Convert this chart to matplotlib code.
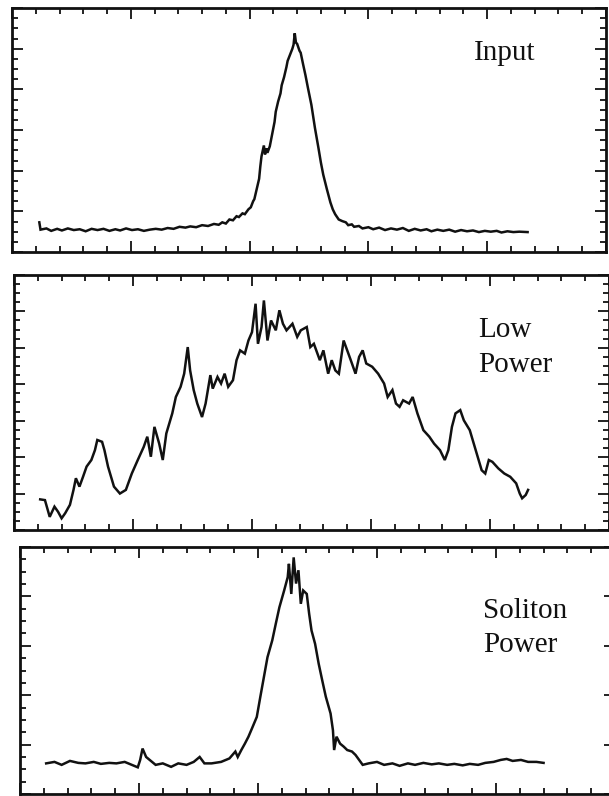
import matplotlib
matplotlib.use("Agg")
import matplotlib.pyplot as plt
from matplotlib.ticker import MultipleLocator

# Input pulse
x_input = [0.23,0.24,0.29,0.33,0.38,0.42,0.47,0.52,0.57,0.62,0.67,0.72,0.77,0.82,0.87,0.91,0.96,1.01,1.06,1.11,
           1.16,1.21,1.26,1.31,1.36,1.41,1.46,1.50,1.55,1.60,1.65,1.70,1.74,1.77,1.80,1.83,1.86,1.89,1.91,1.94,
           1.96,1.99,2.01,2.03,2.04,2.06,2.08,2.09,2.10,2.12,2.13,2.14,2.15,2.17,2.19,2.21,2.22,2.24,2.26,2.27,
           2.29,2.31,2.32,2.34,2.36,2.37,2.38,2.39,2.40,2.42,2.43,2.45,2.47,2.49,2.52,2.55,2.58,2.60,2.62,2.65,
           2.68,2.70,2.72,2.75,2.78,2.81,2.83,2.86,2.88,2.92,2.95,3.00,3.04,3.09,3.14,3.19,3.24,3.29,3.34,3.39,
           3.44,3.49,3.53,3.58,3.63,3.68,3.73,3.78,3.83,3.88,3.93,3.98,4.03,4.08,4.12,4.17,4.22,4.27,4.34]
y_input = [0.73,0.55,0.58,0.52,0.57,0.53,0.58,0.54,0.56,0.51,0.57,0.54,0.57,0.52,0.56,0.53,0.58,0.54,0.56,0.52,
           0.55,0.57,0.55,0.59,0.57,0.62,0.60,0.63,0.61,0.66,0.64,0.69,0.67,0.73,0.70,0.80,0.78,0.88,0.86,0.95,
           0.93,1.05,1.10,1.25,1.30,1.55,1.80,2.10,2.35,2.62,2.40,2.55,2.44,2.60,2.90,3.20,3.45,3.70,3.90,4.10,
           4.30,4.55,4.70,4.85,5.00,5.10,5.38,5.15,5.12,4.95,4.90,4.62,4.35,4.05,3.62,3.05,2.55,2.20,1.90,1.55,
           1.22,1.05,0.93,0.80,0.76,0.73,0.66,0.68,0.62,0.64,0.58,0.61,0.56,0.60,0.54,0.58,0.55,0.59,0.52,0.57,
           0.53,0.56,0.51,0.55,0.52,0.55,0.50,0.54,0.51,0.53,0.49,0.52,0.50,0.52,0.48,0.51,0.49,0.50,0.49]

# Low power output
x_low = [0.22,0.26,0.30,0.34,0.37,0.40,0.43,0.47,0.50,0.52,0.55,0.58,0.61,0.65,0.68,0.70,0.74,0.76,0.79,0.84,
         0.89,0.94,0.99,1.04,1.09,1.12,1.15,1.18,1.22,1.25,1.28,1.33,1.36,1.40,1.43,1.46,1.48,1.51,1.54,1.58,
         1.61,1.65,1.67,1.71,1.74,1.77,1.80,1.84,1.87,1.90,1.94,1.97,2.00,2.03,2.05,2.08,2.10,2.13,2.16,2.20,
         2.23,2.26,2.29,2.34,2.38,2.41,2.46,2.49,2.52,2.57,2.60,2.64,2.67,2.70,2.73,2.77,2.80,2.83,2.87,2.90,
         2.93,2.96,3.01,3.06,3.11,3.14,3.18,3.21,3.24,3.27,3.32,3.35,3.39,3.44,3.49,3.53,3.58,3.62,3.65,3.68,
         3.71,3.75,3.78,3.83,3.88,3.93,3.96,3.99,4.02,4.07,4.12,4.17,4.22,4.25,4.27,4.30,4.32]
y_low = [0.84,0.82,0.36,0.64,0.50,0.32,0.46,0.69,1.10,1.42,1.19,1.46,1.74,1.92,2.19,2.47,2.42,2.19,1.74,1.19,
         1.00,1.10,1.55,1.92,2.28,2.56,2.01,2.83,2.37,1.92,2.65,3.20,3.65,3.93,4.29,5.02,4.38,3.84,3.47,3.10,
         3.47,4.25,3.88,4.20,4.02,4.29,3.93,4.11,4.66,4.93,4.84,5.20,5.43,6.21,5.11,5.57,6.30,5.20,5.75,5.48,
         6.03,5.66,5.48,5.66,5.30,5.48,5.57,5.02,5.11,4.66,4.93,4.29,4.66,4.38,4.29,5.20,4.93,4.66,4.29,4.75,
         4.93,4.57,4.48,4.29,4.02,3.65,3.84,3.47,3.38,3.56,3.47,3.65,3.20,2.74,2.56,2.37,2.19,1.92,2.19,2.83,
         3.20,3.29,3.01,2.74,2.19,1.64,1.55,1.92,1.87,1.69,1.55,1.46,1.28,1.00,0.87,0.96,1.10]

# Soliton power output
x_sol = [0.22,0.29,0.35,0.42,0.49,0.55,0.62,0.68,0.75,0.81,0.88,0.94,0.99,1.01,1.03,1.06,1.09,1.14,1.20,1.27,
         1.33,1.40,1.46,1.51,1.55,1.61,1.69,1.76,1.81,1.83,1.86,1.89,1.92,1.95,1.99,2.02,2.05,2.08,2.12,2.15,
         2.18,2.22,2.25,2.26,2.28,2.30,2.32,2.34,2.36,2.38,2.41,2.43,2.45,2.48,2.51,2.54,2.57,2.61,2.63,2.64,
         2.66,2.69,2.72,2.75,2.79,2.82,2.85,2.88,2.93,3.00,3.06,3.13,3.19,3.26,3.32,3.39,3.46,3.52,3.59,3.65,
         3.72,3.78,3.85,3.91,3.98,4.04,4.09,4.14,4.21,4.27,4.34,4.40]
y_sol = [0.62,0.65,0.59,0.67,0.63,0.62,0.65,0.61,0.63,0.62,0.65,0.59,0.54,0.69,0.92,0.75,0.69,0.59,0.62,0.55,
         0.62,0.59,0.65,0.75,0.62,0.62,0.65,0.72,0.86,0.75,0.89,1.02,1.16,1.33,1.56,1.97,2.37,2.77,3.11,3.45,
         3.78,4.12,4.39,4.66,4.05,4.79,4.26,4.53,3.85,4.12,4.05,3.65,3.31,3.04,2.64,2.30,1.97,1.63,1.29,0.89,
         1.16,1.02,0.96,0.89,0.86,0.79,0.69,0.59,0.62,0.65,0.59,0.62,0.57,0.62,0.59,0.63,0.60,0.62,0.59,0.61,
         0.58,0.61,0.59,0.63,0.65,0.69,0.71,0.67,0.69,0.65,0.65,0.63]

panels = [
    # rect, series, y range, label, label position
    ([0.0197, 0.6834, 0.9754, 0.3065], x_input, y_input, 6, "Input", (0.778, 0.787)),
    ([0.0230, 0.3342, 0.9770, 0.3204], x_low, y_low, 7, "Low\nPower", (0.78, 0.62)),
    ([0.0328, 0.0025, 0.9770, 0.3103], x_sol, y_sol, 5, "Soliton\nPower", (0.778, 0.575)),
]

fig = plt.figure(figsize=(6.09, 7.96), dpi=100)

for rect, xs, ys, ytop, label, (tx, ty) in panels:
    ax = fig.add_axes(rect)
    ax.plot(xs, ys, color="#111111", lw=1.8, solid_joinstyle="miter")
    ax.set_xlim(0, 5)
    ax.set_ylim(0, ytop)
    ax.xaxis.set_major_locator(MultipleLocator(1))
    ax.xaxis.set_minor_locator(MultipleLocator(0.2))
    ax.yaxis.set_major_locator(MultipleLocator(1))
    ax.yaxis.set_minor_locator(MultipleLocator(0.25))
    ax.tick_params(which="both", direction="in", top=True, right=True,
                   labelbottom=False, labelleft=False, color="#111111")
    ax.tick_params(which="major", length=8, width=1.3)
    ax.tick_params(which="minor", length=4, width=1.3)
    for s in ax.spines.values():
        s.set_linewidth(2)
        s.set_color("#111111")
    ax.text(tx, ty, label, transform=ax.transAxes, ha="left", va="baseline",
            fontsize=21, family="Liberation Serif", linespacing=1.42, color="#111111")

fig.savefig("out.png", dpi=100)
